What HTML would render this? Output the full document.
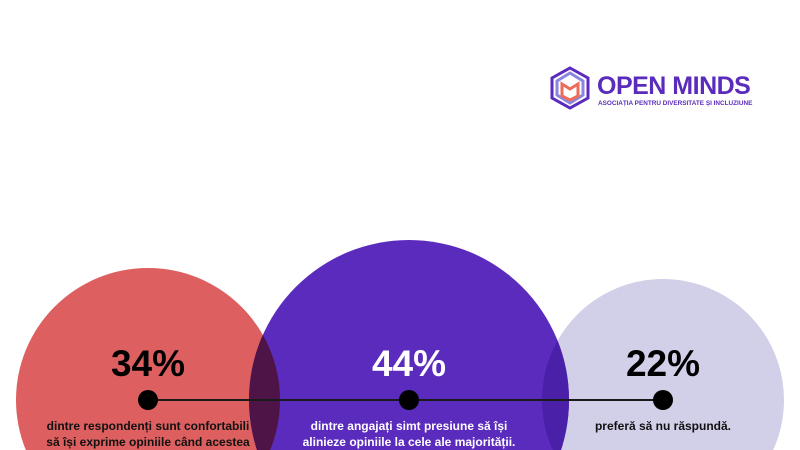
<!DOCTYPE html>
<html><head><meta charset="utf-8"><style>
html,body{margin:0;width:800px;height:450px;overflow:hidden}
body{background:#fff;font-family:"Liberation Sans","DejaVu Sans",sans-serif;position:relative}
.t{position:absolute;text-align:center;font-weight:bold;white-space:nowrap}
</style></head><body>
<svg width="800" height="450" style="position:absolute;left:0;top:0">
<defs>
<clipPath id="cr"><circle cx="148" cy="400" r="132"/></clipPath>
<clipPath id="cl"><circle cx="663" cy="400" r="121"/></clipPath>
</defs>
<circle cx="148" cy="400" r="132" fill="#dd5f60"/>
<circle cx="663" cy="400" r="121" fill="#d2cfe8"/>
<circle cx="409" cy="400" r="160" fill="#5b2bbd"/>
<circle cx="409" cy="400" r="160" fill="#4e1448" clip-path="url(#cr)"/>
<circle cx="409" cy="400" r="160" fill="#4a20a8" clip-path="url(#cl)"/>
<line x1="148" y1="400" x2="663" y2="400" stroke="#1a1a1a" stroke-width="2"/>
<circle cx="148" cy="400" r="10" fill="#000"/>
<circle cx="409" cy="400" r="10" fill="#000"/>
<circle cx="663" cy="400" r="10" fill="#000"/>
<g fill="none" stroke-width="3">
<path d="M570 68 L588 78 L588 98 L570 108 L552 98 L552 78 Z" stroke="#5b2bbd"/>
<path d="M570 73 L583 81 L583 95 L570 103 L557 95 L557 81 Z" stroke="#8a86e0"/>
<path d="M562 84 L570 89 L578 84 L578 96 L570 100 L562 96 Z" stroke="#ee6b5a"/>
</g>
</svg>
<div class="t" style="left:597px;top:72px;font-size:25px;color:#5b2bbd;letter-spacing:-0.5px">OPEN MINDS</div>
<div class="t" style="left:598px;top:100px;font-size:6.4px;color:#5b2bbd">ASOCIAȚIA PENTRU DIVERSITATE ȘI INCLUZIUNE</div>
<div class="t" style="left:48px;width:200px;top:343px;font-size:37px;color:#000">34%</div>
<div class="t" style="left:309px;width:200px;top:343px;font-size:37px;color:#fff">44%</div>
<div class="t" style="left:563px;width:200px;top:343px;font-size:37px;color:#000">22%</div>
<div class="t" style="left:18px;width:260px;top:418px;font-size:12px;line-height:16px;height:32px;overflow:hidden;color:#111">dintre respondenți sunt confortabili<br>să își exprime opiniile când acestea</div>
<div class="t" style="left:279px;width:260px;top:418px;font-size:12px;line-height:16px;height:32px;overflow:hidden;color:#fff">dintre angajați simt presiune să își<br>alinieze opiniile la cele ale majorității.</div>
<div class="t" style="left:563px;width:200px;top:418px;font-size:12px;line-height:16px;color:#111">preferă să nu răspundă.</div>
</body></html>
